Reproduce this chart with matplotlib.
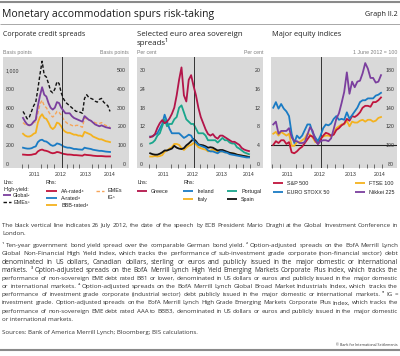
import numpy as np
import pandas as pd
import matplotlib
matplotlib.use("Agg")
import matplotlib.pyplot as plt
from matplotlib.lines import Line2D

W, H = 400, 356

# monthly observations, Jan 2011 - Jun 2014
months = pd.period_range("2011-01", "2014-06", freq="M")
t = np.asarray(months.year + (months.month - 0.5) / 12, dtype=float)
draghi = 2012 + (6 + 25.5 / 31) / 12   # 26 July 2012
years = [2011, 2012, 2013, 2014]

# --- Corporate credit spreads (basis points) ---
global_hy = [490, 450, 420, 410, 420, 450, 470, 620, 730, 820, 740, 720,
             650, 600, 580, 600, 660, 650, 600, 570, 540, 540, 540, 510,
             490, 480, 470, 460, 450, 510, 490, 470, 460, 440, 420, 410,
             400, 410, 400, 390, 385, 380]
emes_hy = [560, 520, 480, 500, 560, 620, 660, 800, 960, 1100, 950, 930,
           860, 780, 760, 800, 880, 860, 760, 700, 660, 640, 620, 600,
           580, 560, 560, 550, 540, 700, 740, 710, 700, 690, 670, 660,
           690, 700, 660, 640, 620, 560]
aa_rated = [48, 47, 46, 46, 47, 50, 52, 65, 72, 75, 70, 68,
            64, 58, 55, 57, 62, 60, 56, 52, 50, 48, 48, 47,
            45, 45, 44, 43, 42, 48, 46, 45, 44, 42, 41, 40,
            40, 40, 39, 38, 38, 38]
a_rated = [85, 82, 80, 80, 82, 88, 92, 115, 125, 128, 120, 118,
           110, 100, 95, 98, 108, 105, 100, 92, 88, 85, 85, 82,
           78, 78, 76, 75, 74, 85, 82, 80, 78, 74, 72, 70,
           68, 68, 66, 64, 63, 62]
bbb_rated = [160, 150, 145, 145, 150, 160, 165, 220, 250, 265, 245, 240,
             220, 195, 185, 195, 220, 215, 200, 180, 170, 165, 165, 160,
             155, 155, 150, 150, 145, 170, 165, 160, 155, 145, 140, 135,
             130, 130, 125, 120, 118, 115]
emes_ig = [220, 210, 205, 205, 210, 220, 225, 270, 320, 340, 310, 300,
           280, 260, 250, 260, 280, 275, 260, 240, 225, 215, 210, 205,
           200, 205, 205, 200, 195, 245, 240, 235, 230, 225, 220, 215,
           215, 220, 210, 205, 200, 195]
p1_lhs_ticks = [0, 200, 400, 600, 800, 1000]
p1_rhs_ticks = [0, 100, 200, 300, 400, 500]

# --- Sovereign spreads (per cent) ---
greece = [8.5, 8.8, 9.5, 11.5, 13.0, 14.0, 13.0, 13.5, 14.5, 16.0, 18.0, 22.0,
          27.0, 31.0, 22.0, 20.0, 27.0, 28.5, 25.0, 22.0, 18.0, 15.0, 13.0, 11.0,
          9.5, 9.0, 9.5, 8.5, 8.0, 9.0, 9.0, 8.5, 8.0, 7.5, 7.0, 7.0,
          6.5, 6.0, 5.0, 4.5, 4.2, 4.0]
ireland = [5.8, 5.8, 6.2, 6.5, 7.5, 8.5, 10.5, 9.0, 7.5, 6.5, 6.5, 6.5,
           6.5, 6.0, 5.5, 5.8, 6.2, 6.0, 5.0, 4.5, 4.0, 3.8, 3.6, 3.4,
           2.8, 2.6, 2.6, 2.4, 2.2, 2.6, 2.6, 2.4, 2.3, 2.0, 1.9, 1.8,
           1.7, 1.6, 1.5, 1.4, 1.3, 1.3]
portugal = [4.3, 4.5, 5.0, 6.0, 6.5, 8.0, 9.5, 8.0, 8.5, 8.5, 9.5, 10.0,
            12.0, 12.5, 11.0, 9.5, 9.0, 8.5, 8.5, 7.5, 6.5, 6.5, 6.5, 6.0,
            5.0, 5.0, 5.0, 5.0, 4.5, 5.0, 5.5, 5.0, 5.0, 4.5, 4.3, 4.3,
            3.5, 3.2, 2.8, 2.4, 2.2, 2.0]
italy = [1.5, 1.5, 1.6, 1.5, 1.6, 1.8, 2.5, 2.8, 3.2, 3.5, 4.2, 4.2,
         4.0, 3.3, 2.9, 3.4, 3.8, 4.0, 4.4, 4.1, 3.5, 3.3, 3.1, 3.0,
         2.6, 2.8, 3.0, 2.8, 2.5, 2.6, 2.6, 2.4, 2.4, 2.2, 2.2, 2.1,
         1.9, 1.8, 1.7, 1.6, 1.5, 1.4]
spain = [2.2, 2.0, 1.9, 1.9, 2.1, 2.4, 2.8, 2.8, 3.0, 3.2, 3.8, 3.4,
         3.2, 3.1, 3.3, 3.9, 4.3, 4.8, 5.3, 4.8, 4.1, 4.0, 3.9, 3.7,
         3.4, 3.5, 3.4, 3.1, 2.8, 2.9, 2.9, 2.7, 2.5, 2.3, 2.2, 2.1,
         1.9, 1.8, 1.7, 1.6, 1.5, 1.4]
p2_lhs_ticks = [0, 6, 12, 18, 24, 30]
p2_rhs_ticks = [0, 4, 8, 12, 16, 20]

# --- Equity indices (1 June 2012 = 100) ---
sp500 = [100, 104, 102, 105, 105, 101, 103, 92, 91, 93, 96, 98,
         102, 106, 110, 109, 105, 101, 106, 110, 113, 112, 110, 111,
         116, 118, 121, 123, 128, 126, 131, 130, 132, 135, 140, 142,
         142, 141, 146, 146, 148, 151]
stoxx50 = [140, 146, 139, 144, 139, 136, 131, 112, 102, 110, 107, 110,
           116, 122, 122, 113, 108, 104, 110, 118, 122, 121, 123, 128,
           131, 127, 128, 127, 135, 128, 132, 136, 140, 146, 148, 148,
           150, 150, 150, 153, 154, 156]
ftse100 = [112, 114, 110, 114, 112, 110, 112, 99, 99, 103, 103, 105,
           107, 112, 111, 108, 103, 104, 107, 109, 110, 110, 109, 112,
           118, 120, 122, 122, 126, 120, 125, 124, 124, 126, 127, 125,
           127, 127, 125, 126, 129, 130]
nikkei225 = [122, 125, 112, 115, 115, 115, 118, 108, 104, 104, 102, 102,
             103, 111, 119, 115, 105, 101, 104, 105, 105, 104, 107, 117,
             128, 134, 145, 157, 178, 155, 168, 162, 168, 169, 177, 188,
             182, 172, 172, 167, 168, 175]
p3_ticks = [80, 100, 120, 140, 160, 180]

RED = "#c0143c"
BLUE = "#1a7bc4"
YELLOW = "#f4b21f"
PURPLE = "#7b3f9e"
ORANGE = "#f6a55a"
TEAL = "#19a68c"
GREECE = "#b3154a"
GREY = "#d9d9d9"
CHART_FONT = ["Liberation Sans", "DejaVu Sans"]
TEXT_FONT = ["Open Sans", "DejaVu Sans"]

fig = plt.figure(figsize=(W / 100, H / 100), dpi=100)
renderer = fig.canvas.get_renderer()


def fx(px):
    return px / W


def fy(py):
    return 1 - py / H


def txt(x, y, s, size, family=CHART_FONT, color="#222222", ha="left", **kw):
    return fig.text(fx(x), fy(y), s, fontsize=size, family=family, color=color,
                    ha=ha, va="center_baseline", **kw)


def fit(art, width_px):
    w = art.get_window_extent(renderer).width
    art.set_fontsize(art.get_fontsize() * width_px / w)
    return art


def justify(line, y, size, x0=2, x1=398):
    # nudge the size a little per line so the word gaps stay close to normal
    probe = fit(txt(0, y, line, size, family=TEXT_FONT), x1 - x0 - 3)
    size = min(max(probe.get_fontsize(), size), size * 1.1)
    probe.remove()
    words = line.split()
    arts = [txt(0, y, w, size, family=TEXT_FONT, color="#333333") for w in words]
    widths = [a.get_window_extent(renderer).width for a in arts]
    gap = (x1 - x0 - sum(widths)) / (len(words) - 1)
    x = x0
    for a, w in zip(arts, widths):
        a.set_x(fx(x))
        x += w + gap


def hline(y, x0, x1, color, lw, ls="-"):
    fig.add_artist(Line2D([fx(x0), fx(x1)], [fy(y), fy(y)], color=color, lw=lw,
                          ls=ls, solid_capstyle="butt", dash_capstyle="butt"))


TOP, BOT = 57, 168          # grey box in pixels
TICK_LO, TICK_HI = 163.5, 70.5
T0, T1 = t[0] - 0.04, t[-1]


def panel(x0, x1, in0, in1):
    ax = fig.add_axes([fx(x0), fy(BOT), (x1 - x0) / W, (BOT - TOP) / H])
    ax.set_facecolor(GREY)
    scale = (in1 - in0) / (T1 - T0)
    ax.set_xlim(T0 - (in0 - x0) / scale, T1 + (x1 - in1) / scale)
    for s in ax.spines.values():
        s.set_visible(False)
    ax.set_xticks([min(y + 0.5, T1 - 0.03) for y in years], [str(y) for y in years],
                  fontsize=3.8, family=CHART_FONT, color="#333333")
    ax.set_xticks(np.arange(2011, 2014.51, 0.25), minor=True)
    ax.tick_params(axis="x", which="major", length=0, pad=3)
    ax.tick_params(axis="x", which="minor", direction="in", length=3, width=0.6,
                   color="#555555")
    ax.axvline(draghi, color="#333333", lw=0.7, zorder=1)
    return ax


def yscale(ax, ticks, side, fmt="{:,}"):
    lo, hi = ticks[0], ticks[-1]
    per = (hi - lo) / (TICK_LO - TICK_HI)
    ax.set_ylim(lo - (BOT - TICK_LO) * per, hi + (TICK_HI - TOP) * per)
    ax.set_yticks(ticks, [fmt.format(v) for v in ticks], fontsize=3.8,
                  family=CHART_FONT, color="#333333",
                  ha="left" if side == "left" else "right")
    ax.tick_params(axis="y", length=0, pad=-2)
    for s in ax.spines.values():
        s.set_visible(False)


# panel 1
ax1 = panel(3, 129, 22, 110)
yscale(ax1, p1_lhs_ticks, "left")
ax1r = ax1.twinx()
yscale(ax1r, p1_rhs_ticks, "right")
ax1r.plot(t, emes_ig, color=ORANGE, lw=1.0, ls=(0, (2.5, 1.5)))
ax1r.plot(t, bbb_rated, color=YELLOW, lw=1.3)
ax1r.plot(t, a_rated, color=BLUE, lw=1.3)
ax1r.plot(t, aa_rated, color=RED, lw=1.3)
ax1.set_zorder(ax1r.get_zorder() + 1)
ax1.patch.set_visible(False)
ax1r.patch.set_visible(True)
ax1r.patch.set_facecolor(GREY)
ax1.plot(t, global_hy, color=PURPLE, lw=1.3, zorder=3)
ax1.plot(t, emes_hy, color="#111111", lw=1.0, ls=(0, (2.5, 1.5)), zorder=3)

# panel 2
ax2 = panel(137, 263, 149, 249)
yscale(ax2, p2_lhs_ticks, "left")
ax2r = ax2.twinx()
yscale(ax2r, p2_rhs_ticks, "right")
ax2r.plot(t, italy, color=YELLOW, lw=1.3)
ax2r.plot(t, spain, color="#111111", lw=1.3)
ax2r.plot(t, ireland, color=BLUE, lw=1.3)
ax2r.plot(t, portugal, color=TEAL, lw=1.3)
ax2.set_zorder(ax2r.get_zorder() + 1)
ax2.patch.set_visible(False)
ax2r.patch.set_visible(True)
ax2r.patch.set_facecolor(GREY)
ax2.plot(t, greece, color=GREECE, lw=1.3, zorder=3)

# panel 3
ax3 = panel(271, 397, 272, 381)
ax3.yaxis.tick_right()
yscale(ax3, p3_ticks, "right", fmt="{}")
ax3.axhline(100, color="#222222", lw=0.8, zorder=1)
ax3.plot(t, ftse100, color=YELLOW, lw=1.3, zorder=2)
ax3.plot(t, sp500, color=RED, lw=1.3, zorder=2)
ax3.plot(t, stoxx50, color=BLUE, lw=1.3, zorder=2)
ax3.plot(t, nikkei225, color=PURPLE, lw=1.3, zorder=2)

# header
hline(2, 0, 400, "#8a8a8a", 1.5)
hline(24, 0, 400, "#9a9a9a", 0.6)
fit(txt(2, 13, "Monetary accommodation spurs risk-taking", 7, family=TEXT_FONT,
        color="#1a1a1a"), 212)
fit(txt(398, 13, "Graph II.2", 5, family=TEXT_FONT, color="#1a1a1a", ha="right"), 33)

# panel titles and units
fit(txt(3, 33, "Corporate credit spreads", 4.5, family=TEXT_FONT), 82)
sel = fit(txt(137, 33, "Selected euro area sovereign", 4.5, family=TEXT_FONT), 106)
txt(137, 41.5, "spreads¹", sel.get_fontsize(), family=TEXT_FONT)
fit(txt(272, 33, "Major equity indices", 4.5, family=TEXT_FONT), 69)
unit = dict(size=3.8, color="#808080")
txt(3, 52, "Basis points", **unit)
txt(129, 52, "Basis points", ha="right", **unit)
txt(137, 52, "Per cent", **unit)
txt(263, 52, "Per cent", ha="right", **unit)
txt(397, 52, "1 June 2012 = 100", ha="right", **unit)

# legends
LS = 3.9
dash = (0, (2.5, 1.5))
txt(3, 182.5, "Lhs:", LS)
txt(3, 188.5, "High-yield:", LS)
hline(195, 3, 11, PURPLE, 1.3)
txt(13, 195, "Global²", LS)
hline(201.5, 3, 11, "#111111", 1.0, dash)
txt(13, 201.5, "EMEs³", LS)
txt(45, 182.5, "Rhs:", LS)
for y, c, lab in [(191, RED, "AA-rated⁴"), (198, BLUE, "A-rated⁴"),
                  (205, YELLOW, "BBB-rated⁴")]:
    hline(y, 46, 57, c, 1.3)
    txt(61, y, lab, LS)
hline(191, 96, 104, ORANGE, 1.0, dash)
txt(107, 190, "EMEs", LS)
txt(107, 197, "IG⁵", LS)

txt(137, 182.5, "Lhs:", LS)
hline(191, 137, 147, GREECE, 1.3)
txt(151, 191, "Greece", LS)
txt(183, 182.5, "Rhs:", LS)
for x, y, c, lab in [(183, 191, BLUE, "Ireland"), (227, 191, TEAL, "Portugal"),
                     (183, 199, YELLOW, "Italy"), (227, 199, "#111111", "Spain")]:
    hline(y, x, x + 10, c, 1.3)
    txt(x + 14, y, lab, LS)

for x, y, c, lab in [(273, 183, RED, "S&P 500"), (355, 183, YELLOW, "FTSE 100"),
                     (273, 192, BLUE, "EURO STOXX 50"), (355, 192, PURPLE, "Nikkei 225")]:
    hline(y, x, x + 10, c, 1.3)
    txt(x + 14, y, lab, LS)

# footnotes: size chosen so a full line sits just inside the text width
draghi_line = ("The black vertical line indicates 26 July 2012, the date of the speech by ECB "
               "President Mario Draghi at the Global Investment Conference in")
probe = fit(txt(2, 225, draghi_line, 4.0, family=TEXT_FONT), 391)
FS = probe.get_fontsize()
probe.remove()
justify(draghi_line, 225, FS)
txt(2, 233, "London.", FS, family=TEXT_FONT, color="#333333")
notes = [
    "¹ Ten-year government bond yield spread over the comparable German bond yield.  "
    "² Option-adjusted spreads on the BofA Merrill Lynch",
    "Global Non-Financial High Yield Index, which tracks the performance of "
    "sub-investment grade corporate (non-financial sector) debt",
    "denominated in US dollars, Canadian dollars, sterling or euros and publicly issued "
    "in the major domestic or international",
    "markets.  ³ Option-adjusted spreads on the BofA Merrill Lynch High Yield Emerging "
    "Markets Corporate Plus Index, which tracks the",
    "performance of non-sovereign EME debt rated BB1 or lower, denominated in US dollars "
    "or euros and publicly issued in the major domestic",
    "or international markets.  ⁴ Option-adjusted spreads on the BofA Merrill Lynch "
    "Global Broad Market Industrials Index, which tracks the",
    "performance of investment grade corporate (industrial sector) debt publicly issued "
    "in the major domestic or international markets.  ⁵ IG =",
    "investment grade. Option-adjusted spreads on the BofA Merrill Lynch High Grade "
    "Emerging Markets Corporate Plus Index, which tracks the",
    "performance of non-sovereign EME debt rated AAA to BBB3, denominated in US dollars "
    "or euros and publicly issued in the major domestic",
]
for i, line in enumerate(notes):
    justify(line, 245 + 8.2 * i, FS)
txt(2, 245 + 8.2 * 9, "or international markets.", FS, family=TEXT_FONT, color="#333333")
txt(2, 332, "Sources: Bank of America Merrill Lynch; Bloomberg; BIS calculations.", FS,
    family=TEXT_FONT, color="#333333")
txt(398, 344, "© Bank for International Settlements", 2.6, family=TEXT_FONT,
    color="#333333", ha="right")
hline(350, 0, 400, "#8a8a8a", 1.5)

fig.savefig("out.png", dpi=100)
